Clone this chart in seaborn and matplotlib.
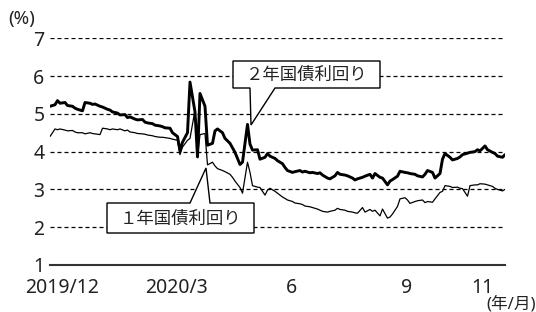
import pandas as pd
import matplotlib.pyplot as plt
import seaborn as sns
from matplotlib.patches import Polygon

# 2-year and 1-year government bond yields (%), sampled every 2 business days
yield_2y = [
    5.20, 5.24, 5.35, 5.28, 5.30, 5.22, 5.20, 5.15, 5.12, 5.08,
    5.30, 5.28, 5.25, 5.26, 5.20, 5.18, 5.12, 5.10, 5.05, 5.02,
    4.97, 4.98, 4.90, 4.92, 4.86, 4.84, 4.85, 4.78, 4.76, 4.74,
    4.70, 4.68, 4.66, 4.63, 4.62, 4.50, 4.40, 4.02, 4.25, 4.50,
    5.84, 5.05, 3.86, 5.54, 5.20, 4.17, 4.22, 4.55, 4.60, 4.50,
    4.35, 4.22, 4.10, 3.98, 3.66, 3.72, 4.72, 4.20, 4.04, 4.05,
    3.80, 3.85, 3.95, 3.88, 3.82, 3.76, 3.68, 3.58, 3.50, 3.45,
    3.47, 3.50, 3.46, 3.48, 3.44, 3.45, 3.42, 3.44, 3.38, 3.30,
    3.28, 3.36, 3.45, 3.40, 3.38, 3.36, 3.30, 3.25, 3.28, 3.32,
    3.35, 3.40, 3.30, 3.42, 3.32, 3.30, 3.12, 3.22, 3.26, 3.35,
    3.48, 3.45, 3.44, 3.42, 3.40, 3.36, 3.33, 3.40, 3.50, 3.45,
    3.30, 3.42, 3.80, 3.95, 3.85, 3.78, 3.82, 3.86, 3.92, 3.96,
    3.98, 4.00, 4.05, 4.02, 4.15, 4.05, 3.98, 3.95, 3.88, 3.85,
    3.92,
]
yield_1y = [
    4.40, 4.60, 4.58, 4.60, 4.57, 4.55, 4.56, 4.52, 4.50, 4.50,
    4.47, 4.50, 4.48, 4.47, 4.45, 4.62, 4.60, 4.58, 4.60, 4.58,
    4.60, 4.55, 4.57, 4.52, 4.50, 4.48, 4.47, 4.46, 4.44, 4.42,
    4.40, 4.38, 4.38, 4.37, 4.35, 4.33, 4.30, 3.92, 4.12, 4.30,
    4.35, 5.10, 3.86, 4.45, 4.48, 3.65, 3.72, 3.62, 3.55, 3.50,
    3.47, 3.40, 3.32, 3.22, 3.05, 2.90, 3.72, 3.45, 3.10, 3.06,
    3.05, 2.85, 2.98, 3.03, 2.95, 2.90, 2.80, 2.76, 2.72, 2.68,
    2.64, 2.62, 2.60, 2.56, 2.54, 2.52, 2.48, 2.45, 2.42, 2.40,
    2.42, 2.45, 2.50, 2.47, 2.45, 2.42, 2.40, 2.38, 2.37, 2.52,
    2.40, 2.47, 2.42, 2.45, 2.30, 2.48, 2.24, 2.27, 2.35, 2.55,
    2.75, 2.78, 2.72, 2.63, 2.68, 2.70, 2.72, 2.65, 2.68, 2.66,
    2.75, 2.92, 2.95, 3.10, 3.08, 3.05, 3.06, 3.03, 3.02, 2.82,
    3.10, 3.12, 3.12, 3.15, 3.14, 3.12, 3.08, 3.03, 3.00, 2.96,
    3.00,
]
dates = pd.bdate_range('2019-11-21', '2020-11-19', freq='2B')

tick_dates = pd.to_datetime(['2019-12-01', '2020-03-01', '2020-06-01', '2020-09-01', '2020-11-01'])
tick_labels = ['2019/12', '2020/3', '6', '9', '11']

df = pd.DataFrame({'date': dates, '2y': yield_2y, '1y': yield_1y})

sns.set_style('white')
plt.rcParams['font.family'] = ['Noto Sans', 'Noto Sans CJK JP', 'DejaVu Sans']

W, H = 536, 312
fig = plt.figure(figsize=(W / 100, H / 100), dpi=100)
ax = fig.add_axes([50 / W, 47 / H, 455 / W, 227.5 / H])

sns.lineplot(data=df, x='date', y='2y', color='black', linewidth=2.1, ax=ax)
sns.lineplot(data=df, x='date', y='1y', color='black', linewidth=0.9, ax=ax)

ax.set_xlim(pd.Timestamp('2019-11-21'), pd.Timestamp('2020-11-19'))
ax.set_ylim(1, 7.02)
ax.set_yticks(range(1, 8))
ax.set_xticks(tick_dates)
ax.set_xticklabels(tick_labels)
ax.set_xlabel('')
ax.set_ylabel('')

ax.grid(axis='y', color='black', linestyle=(0, (3.2, 2.4)), linewidth=0.9)
ax.grid(axis='x', visible=False)
for side in ['left', 'right', 'top']:
    ax.spines[side].set_visible(False)
ax.spines['bottom'].set_color('#333333')
ax.spines['bottom'].set_linewidth(1.5)

ax.tick_params(axis='y', length=0, pad=4, labelsize=14, colors='#222222')
ax.tick_params(axis='x', direction='in', length=6, width=1.2, pad=9.5,
               labelsize=14, colors='#222222')

fig.text(8 / W, 1 - 19 / H, '(%)', fontsize=13.5, va='center', ha='left', color='#222222')
fig.text(536 / W, 1 - 304 / H, '(年/月)', fontsize=12, va='center', ha='right', color='#222222')


def callout(pts, text, cx, cy):
    # pts in pixels from the top-left corner
    poly = [(x / W, 1 - y / H) for x, y in pts]
    fig.add_artist(Polygon(poly, closed=True, transform=fig.transFigure,
                           facecolor='white', edgecolor='black', linewidth=1.0, zorder=5))
    fig.text(cx / W, 1 - cy / H, text, fontsize=12.5, ha='center', va='center',
             color='#222222', zorder=6)


callout([(233, 61), (380, 61), (380, 88), (275, 88), (251, 125), (250, 88), (233, 88)],
        '２年国債利回り', 306.5, 75)
callout([(107, 203), (190, 203), (206, 168), (210, 203), (254, 203), (254, 233), (107, 233)],
        '１年国債利回り', 180.5, 218.5)

fig.savefig('out.png', dpi=100)
